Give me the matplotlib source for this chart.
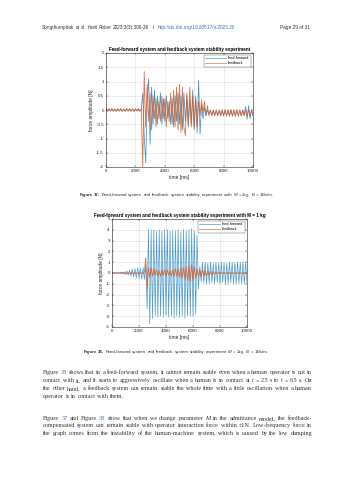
import numpy as np
import matplotlib
matplotlib.use("Agg")
import matplotlib.pyplot as plt

W, H = 353, 480

# ---------------- data (100 ms steps) ----------------
time_ms = list(range(0, 10001, 100))

ff1 = [0.02, -0.03, 0.03, -0.02, 0.04, -0.03, 0.02, -0.04, 0.03, -0.02,
       0.03, -0.04, 0.02, -0.03, 0.04, -0.02, 0.03, -0.03, 0.02, -0.04,
       0.03, -0.02, 0.04, -0.03, 0.02,
       0.6, -0.9, -1.85, 0.3, 1.1, -1.2, 0.8, -0.5, 0.7, -0.6,
       0.5, -0.3, 0.6, -0.5, 0.4, -0.4, 0.5, -0.3, 0.3, -0.5,
       0.4, -0.6, 0.5, -0.4, 0.6, -0.5, 0.5, -0.7, 0.6, -0.4,
       0.5, -0.6, 0.4, -0.5, 0.7, -0.6, 0.5, -0.8, 1.05, -0.85,
       0.2, -0.3, 0.1, -0.2, 0.0, -0.15,
       -0.02, -0.18, -0.03, -0.17, -0.04, -0.18, -0.02, -0.16, -0.03, -0.17,
       -0.04, -0.18, -0.03, -0.17, -0.02, -0.19, -0.03, -0.18, -0.02, -0.17,
       -0.03, -0.19, -0.02, -0.18, 0.12, -0.32, 0.15, -0.3, 0.0, -0.2]

fb1 = [0.04, -0.05, 0.05, -0.04, 0.05, -0.05, 0.04, -0.05, 0.05, -0.04,
       0.05, -0.05, 0.04, -0.05, 0.05, -0.04, 0.05, -0.05, 0.04, -0.05,
       0.05, -0.04, 0.05, -0.05, 0.04,
       -2.0, 1.35, -0.6, 0.9, -0.4, 0.6, -0.7, 0.5, -0.3, 0.4,
       -0.5, 0.3, -0.4, 0.5, -0.3, 0.4, -0.6, 0.3, -0.4, 0.6,
       -0.5, 0.7, -0.6, 0.8, -0.7, 0.9, -0.8, 0.8, -0.6, -0.9,
       0.6, -0.5, 0.8, -0.6, 0.5, -0.7, 0.4, -0.6, 0.3, -0.2,
       0.35, -0.1, 0.3, -0.2, 0.15, -0.2,
       0.0, -0.2, 0.0, -0.21, 0.01, -0.2, 0.0, -0.22, 0.01, -0.21,
       0.02, -0.22, 0.01, -0.23, 0.02, -0.22, 0.01, -0.23, 0.02, -0.22,
       0.01, -0.22, 0.0, -0.21, 0.01, -0.22, 0.0, -0.21, 0.0, -0.2]

ff2 = [0.0, 0.02, -0.02, 0.03, -0.03, 0.05, -0.05, 0.08, -0.08, 0.12,
       -0.15, 0.2, -0.2, 0.25, -0.3, 0.35, -0.35, 0.4, -0.45, 0.5,
       -0.5, 0.45, -0.55, 0.5, -0.6,
       0.8, -3.3, 4.0, -4.7, 4.0, -4.2, 4.0, -4.0, 3.9, -4.1,
       4.0, -4.0, 3.9, -4.1, 4.0, -3.9, 4.0, -4.1, 3.9, -4.0,
       4.0, -4.2, 3.9, -4.0, 4.0, -4.1, 3.8, -4.0, 4.0, -4.2,
       3.9, -4.0, 4.0, -4.0, 4.1, -4.0, 3.9, -3.8, 3.5, -1.5,
       0.6, -0.8, 1.0, -0.9, 1.0, -1.0, 0.9, -1.0, 1.0, -0.9,
       0.9, -1.0, 1.0, -0.9, 0.95, -1.0, 1.0, -0.9, 1.0, -1.05,
       0.9, -1.0, 1.05, -0.9, 1.0, -1.0, 0.95, -1.0, 1.05, -0.95,
       1.0, -1.0, 1.05, -1.0, 1.0, -0.9]

fb2 = [0.03, -0.03, 0.04, -0.03, 0.03, -0.04, 0.03, -0.03, 0.04, -0.03,
       0.03, -0.04, 0.03, -0.03, 0.04, -0.03, 0.03, -0.04, 0.03, -0.03,
       0.04, -0.03, 0.03, -0.04, 0.05,
       1.4, -1.5, 0.5, -0.4, 0.5, -0.3, 0.4, -0.2, 0.3, -0.3,
       0.2, -0.3, 0.3, -0.2, 0.3, -0.3, 0.3, -0.2, 0.2, -0.3,
       0.3, -0.3, 0.4, -0.3, 0.4, -0.4, 0.5, -0.5, 0.5, -0.6,
       0.6, -0.7, 0.7, -0.8, 0.8, -0.7, 0.6, -0.5, 0.4, -0.3,
       0.3, -0.35, 0.3, -0.3, 0.25, -0.25, 0.2, -0.2, 0.15, -0.15,
       0.12, -0.1, 0.1, -0.08, 0.08, -0.06, 0.06, -0.05, 0.05, -0.05,
       0.05, -0.04, 0.05, -0.05, 0.04, -0.05, 0.05, -0.04, 0.05, -0.05,
       0.04, -0.05, 0.05, -0.04, 0.05, -0.04]

xticks = [0, 2000, 4000, 6000, 8000, 10000]
yticks1 = [-2, -1.5, -1, -0.5, 0, 0.5, 1, 1.5, 2]
yticks2 = [-5, -4, -3, -2, -1, 0, 1, 2, 3, 4, 5]
series_names = ["feed-forward", "feedback"]

title1 = "Feed-forward system and feedback system stability experiment"
title2 = "Feed-forward system and feedback system stability experiment with M = 1 kg"

# ---------------- styling ----------------
BLUE = (0.0, 0.447, 0.741)
ORANGE = (0.85, 0.325, 0.098)
AXC = (0.15, 0.15, 0.15)
SANS = ["Liberation Sans", "DejaVu Sans"]
SERIF = ["Liberation Serif", "DejaVu Serif"]

fig = plt.figure(figsize=(W / 100, H / 100), dpi=100)
fig.patch.set_facecolor("white")


def fx(px):
    return px / W


def fy(py):
    return 1 - py / H


def make_axes(l, t, r, b):
    return fig.add_axes([fx(l), fy(b), fx(r) - fx(l), fy(t) - fy(b)])


def style_axes(ax, yt, ylim, title):
    ax.set_xlim(0, 10000)
    ax.set_ylim(*ylim)
    ax.set_xticks(xticks)
    ax.set_yticks(yt)
    ax.set_xticklabels([str(v) for v in xticks])
    ax.set_yticklabels([("%g" % v) for v in yt])
    ax.grid(True, color=AXC, alpha=0.15, linewidth=0.4)
    ax.set_axisbelow(True)
    for s in ax.spines.values():
        s.set_color(AXC)
        s.set_linewidth(0.4)
    ax.tick_params(direction="in", length=1.2, width=0.3, colors=AXC,
                   labelsize=3.2, pad=1.5, top=True, right=True)
    for lab in ax.get_xticklabels() + ax.get_yticklabels():
        lab.set_family(SANS)
    ax.set_xlabel("time [ms]", fontsize=3.5, family=SANS, color=AXC, labelpad=1.2)
    ax.set_ylabel("force amplitude [N]", fontsize=3.5, family=SANS, color=AXC, labelpad=1.5)
    ax.set_title(title, fontsize=3.35, family=SANS, weight="bold", pad=1.5, color="black")
    leg = ax.legend(series_names, loc="upper right", fontsize=2.7, frameon=True,
                    fancybox=False, borderpad=0.4, handlelength=5.5,
                    labelspacing=0.25, borderaxespad=0.5, handletextpad=0.6)
    leg.get_frame().set_edgecolor(AXC)
    leg.get_frame().set_linewidth(0.3)
    for t in leg.get_texts():
        t.set_family(SANS)
    for ln in leg.get_lines():
        ln.set_linewidth(0.5)


ax1 = make_axes(106, 53, 253, 167)
ax1.plot(time_ms, ff1, color=BLUE, lw=0.55, alpha=0.75)
ax1.plot(time_ms, fb1, color=ORANGE, lw=0.6, alpha=0.8)
style_axes(ax1, yticks1, (-2, 2), title1)

ax2 = make_axes(112, 219, 247, 327)
ax2.plot(time_ms, ff2, color=BLUE, lw=0.5, alpha=0.7)
ax2.plot(time_ms, fb2, color=ORANGE, lw=0.6, alpha=0.8)
style_axes(ax2, yticks2, (-5, 5), title2)

# ---------------- page text ----------------
renderer = fig.canvas.get_renderer()
TEXT = (0.2, 0.2, 0.2)
LINK = (0.2, 0.45, 0.75)


def parse(s):
    toks = []
    for w in s.split(" "):
        st = {"color": TEXT, "style": "normal", "weight": "normal"}
        if w.startswith("~"):
            w = w[1:]
            st["color"] = LINK
        if w.startswith("_") and w.endswith("_") and len(w) > 1:
            w = w[1:-1]
            st["style"] = "italic"
        if w.startswith("^"):
            w = w[1:]
            st["weight"] = "bold"
        toks.append((w, st))
    return toks


def place_line(s, x0, x1, y, size, family, justify=True, gap_em=0.25):
    toks = parse(s)
    objs = []
    widths = []
    for w, st in toks:
        t = fig.text(0, fy(y), w, fontsize=size, family=family, color=st["color"],
                     style=st["style"], weight=st["weight"], va="baseline", ha="left")
        bb = t.get_window_extent(renderer)
        objs.append(t)
        widths.append(bb.width if w else 0.0)
    total = sum(widths)
    if justify and len(objs) > 1:
        gap = (x1 - x0 - total) / (len(objs) - 1)
    else:
        gap = size * 1.389 * gap_em
    x = x0
    for t, wd in zip(objs, widths):
        t.set_x(fx(x))
        x += wd + gap


# header
place_line("Songthumpitak et al. _Intell_ _Robot_ 2023;3(3):306-36   I   ~http://dx.doi.org/10.20517/ir.2023.20",
           42, 0, 29, 3.4, SANS, justify=False, gap_em=0.28)
fig.text(fx(310), fy(29), "Page 29 of 31", fontsize=3.4, family=SANS, color=TEXT,
         ha="right", va="baseline")

# captions
place_line("^Figure ^37. Feed-forward system and feedback system stability experiment with _M_ = 2kg, _B_ = 1Ns/m.",
           80, 0, 196, 3.2, SANS, justify=False, gap_em=0.28)
place_line("^Figure ^38. Feed-forward system and feedback system stability experiment _M_ = 1kg, _B_ = 1Ns/m.",
           84, 0, 353, 3.15, SANS, justify=False, gap_em=0.28)

# body paragraphs
para1 = [
    "Figure ~38 shows that in a feed-forward system, it cannot remain stable even when a human operator is not in",
    "contact with it, and it starts to aggressively oscillate when a human is in contact at _t_ = 2.5 s to _t_ = 6.5 s. On",
    "the other hand, a feedback system can remain stable the whole time with a little oscillation when a human",
]
for i, ln in enumerate(para1):
    place_line(ln, 43, 312, 374 + 8 * i, 4.45, SERIF, justify=True)
place_line("operator is in contact with them.", 43, 312, 398, 4.45, SERIF, justify=False)

para2 = [
    "Figure ~37 and Figure ~38 show that when we change parameter _M_ in the admittance model, the feedback-",
    "compensated system can remain stable with operator interaction force within ±1N. Low-frequency force in",
    "the graph comes from the instability of the human-machine system, which is caused by the low damping",
]
for i, ln in enumerate(para2):
    place_line(ln, 43, 312, 420 + 7.4 * i, 4.45, SERIF, justify=True)

fig.savefig("out.png", dpi=100, facecolor="white")
